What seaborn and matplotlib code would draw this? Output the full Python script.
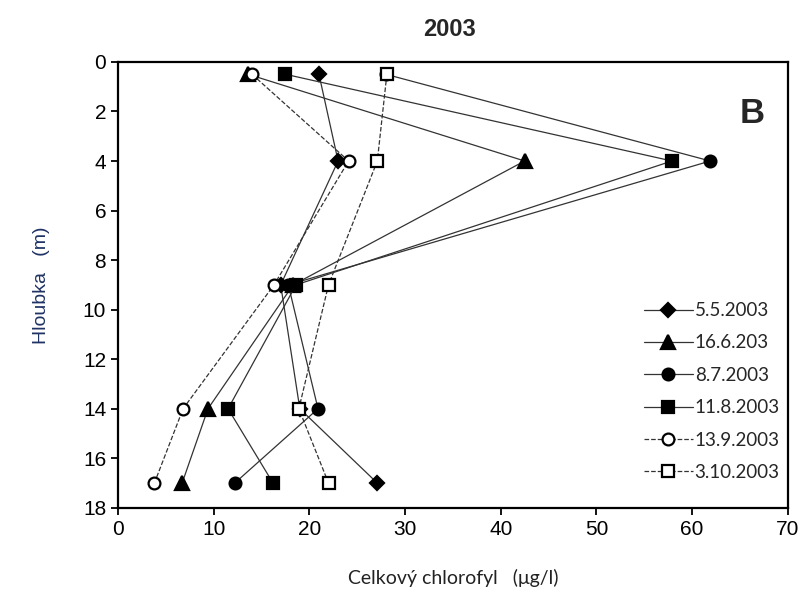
import numpy as np
import pandas as pd
import matplotlib
matplotlib.use("Agg")
import matplotlib.pyplot as plt
import seaborn as sns

# -- Data ----------------------------------------------------
depth = [0.5, 4, 9, 14, 17]
dates = ["5.5.2003", "16.6.203", "8.7.2003", "11.8.2003", "13.9.2003", "3.10.2003"]
chl_0505 = [21.0, 23.0, 17.0, 19.0, 27.1]
chl_1606 = [13.6, 42.5, 18.3, 9.4, 6.7]
chl_0807 = [28.0, 61.9, 17.8, 20.9, 12.2]
chl_1108 = [17.5, 57.9, 18.6, 11.5, 16.2]
chl_1309 = [14.0, 24.1, 16.3, 6.8, 3.8]
chl_0310 = [28.1, 27.1, 22.0, 18.9, 22.0]
values = [chl_0505, chl_1606, chl_0807, chl_1108, chl_1309, chl_0310]

df = pd.DataFrame({
    "date": np.repeat(dates, len(depth)),
    "depth": depth * len(dates),
    "chl": np.concatenate(values),
})

# -- Styles --------------------------------------------------
styles = {
    "5.5.2003":  dict(marker="D", ms=7.5, mfc="black", ls="-"),
    "16.6.203":  dict(marker="^", ms=9.5, mfc="black", ls="-"),
    "8.7.2003":  dict(marker="o", ms=8.5, mfc="black", ls="-"),
    "11.8.2003": dict(marker="s", ms=8.0, mfc="black", ls="-"),
    "13.9.2003": dict(marker="o", ms=8.5, mfc="white", ls="--"),
    "3.10.2003": dict(marker="s", ms=8.0, mfc="white", ls="--"),
}

sns.set_style("ticks")
plt.rcParams["font.family"] = ["Liberation Sans", "DejaVu Sans"]

fig = plt.figure(figsize=(8.03, 6.01), dpi=100)
ax = fig.add_axes([0.147, 0.155, 0.834, 0.742])

for d in dates:
    st = styles[d]
    sub = df[df["date"] == d]
    sns.lineplot(data=sub, x="chl", y="depth", sort=False, estimator=None,
                 ax=ax, color="#333333", linewidth=0.9, label=d,
                 linestyle=st["ls"], marker=st["marker"], markersize=st["ms"],
                 markerfacecolor=st["mfc"], markeredgecolor="black",
                 markeredgewidth=1.6, dashes=(3, 2) if st["ls"] == "--" else None)

ax.set_xlim(0, 70)
ax.set_ylim(18, 0)
ax.set_xticks(range(0, 71, 10))
ax.set_yticks(range(0, 19, 2))
ax.tick_params(axis="both", direction="out", length=5, width=1.3,
               labelsize=15, colors="black")
for sp in ax.spines.values():
    sp.set_visible(True)
    sp.set_linewidth(1.6)
    sp.set_color("black")

ax.set_xlabel("Celkový chlorofyl   (μg/l)", fontsize=14, family=["Lato", "DejaVu Sans"],
              color="#222222", labelpad=22)
ax.set_ylabel("Hloubka   (m)", fontsize=14, color="#1f3264", labelpad=24)
fig.suptitle("2003", x=0.56, y=0.97, fontsize=17, fontweight="bold")
ax.text(0.965, 0.885, "B", transform=ax.transAxes, ha="right", va="center",
        fontsize=25, fontweight="bold")

leg = ax.legend(loc="lower right", bbox_to_anchor=(1.005, 0.035), frameon=False,
                prop={"family": ["Lato", "DejaVu Sans"], "size": 13.5},
                handlelength=2.6, handletextpad=0.1, labelspacing=0.82,
                borderaxespad=0.2)

fig.savefig("out.png", dpi=100)
